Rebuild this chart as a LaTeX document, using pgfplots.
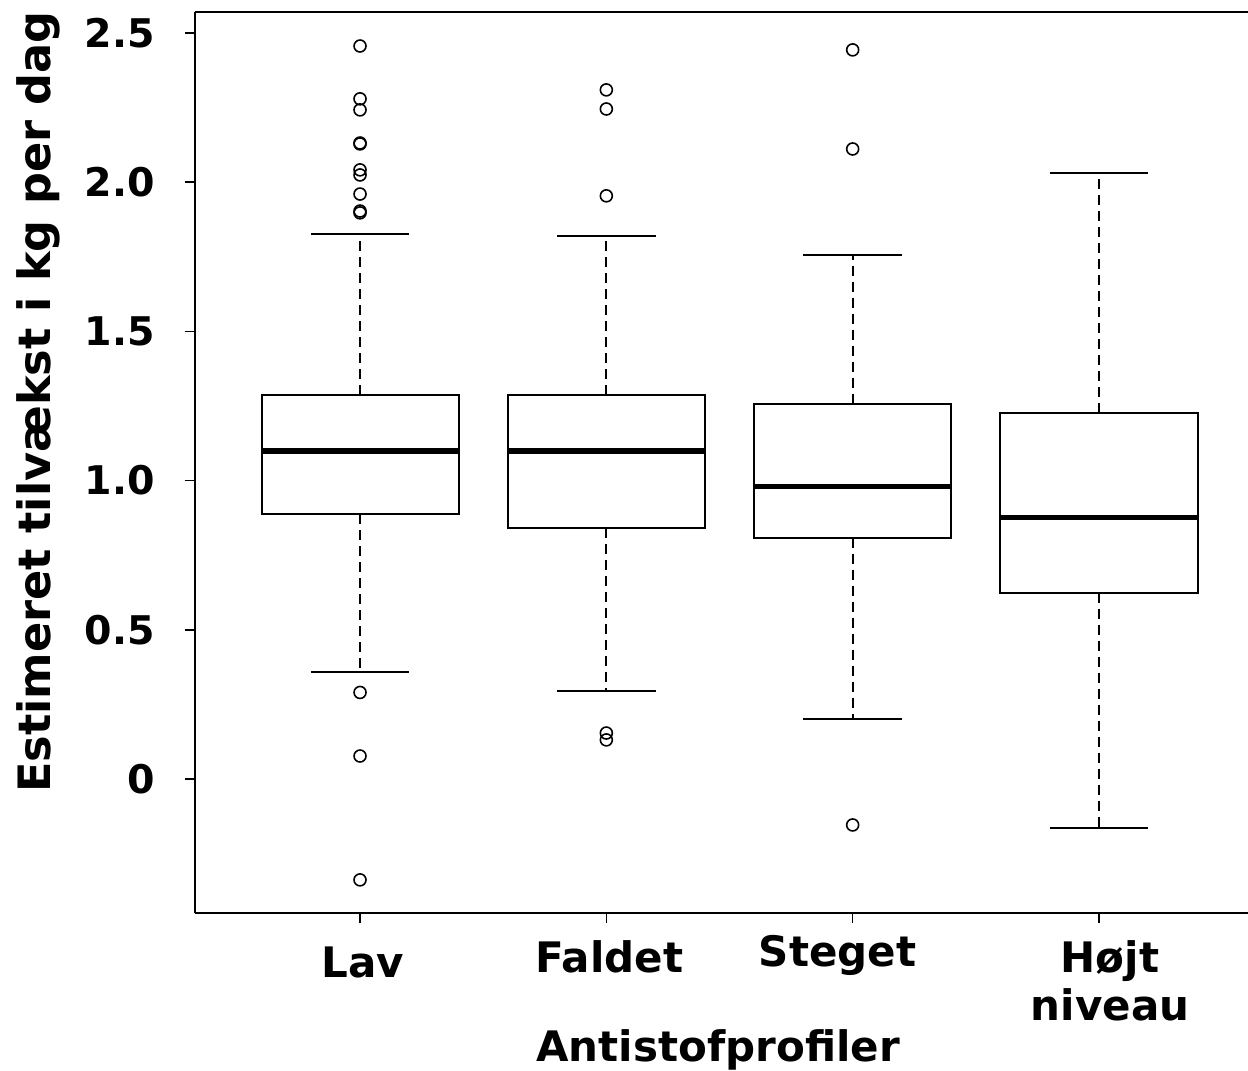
\documentclass[border=0pt]{standalone}
\usepackage{fontspec}
\setmainfont{DejaVu Sans}
\usepackage{pgfplots}
\usepgfplotslibrary{statistics}
\pgfplotsset{compat=1.18}
\begin{document}
\begin{tikzpicture}
\begin{axis}[
  at={(0,0)}, anchor=south west,
  scale only axis, width=526.5pt, height=450.5pt,
  xmin=0.330, xmax=4.605, ymin=-0.449, ymax=2.570,
  axis x line*=box, axis y line*=left,
  axis line style={-, black, line width=1pt},
  clip=false,
  xtick={1,2,3,4}, xticklabels={}, xtick pos=left,
  ytick={0,0.5,1,1.5,2,2.5}, yticklabels={0,0.5,1.0,1.5,2.0,2.5},
  ytick pos=left,
  tick align=outside, major tick length=5pt,
  tick style={black, line width=0.8pt},
  yticklabel style={font=\fontsize{19.75}{20}\selectfont\bfseries, anchor=east, inner sep=0pt, xshift=-15pt},
  boxplot/draw direction=y,
  boxplot/draw/lower whisker/.code={
    \draw[line width=1.1pt, dash pattern=on 5pt off 3pt]
      (boxplot box cs:\pgfplotsboxplotvalue{lower quartile},0.5) --
      (boxplot box cs:\pgfplotsboxplotvalue{lower whisker},0.5);
    \draw[line width=1pt]
      (boxplot whisker cs:\pgfplotsboxplotvalue{lower whisker},0) --
      (boxplot whisker cs:\pgfplotsboxplotvalue{lower whisker},1);
  },
  boxplot/draw/upper whisker/.code={
    \draw[line width=1.1pt, dash pattern=on 5pt off 3pt]
      (boxplot box cs:\pgfplotsboxplotvalue{upper quartile},0.5) --
      (boxplot box cs:\pgfplotsboxplotvalue{upper whisker},0.5);
    \draw[line width=1pt]
      (boxplot whisker cs:\pgfplotsboxplotvalue{upper whisker},0) --
      (boxplot whisker cs:\pgfplotsboxplotvalue{upper whisker},1);
  },
  boxplot/every median/.style={line width=2.6pt},
  boxplot/box extend=0.8, boxplot/whisker extend=0.4,
]
\addplot[black, line width=1pt, boxplot prepared={draw position=1,
  lower whisker=0.359, lower quartile=0.888, median=1.099,
  upper quartile=1.287, upper whisker=1.826}] coordinates {};
\addplot[black, line width=1pt, boxplot prepared={draw position=2,
  lower whisker=0.295, lower quartile=0.841, median=1.099,
  upper quartile=1.287, upper whisker=1.820}] coordinates {};
\addplot[black, line width=1pt, boxplot prepared={draw position=3,
  lower whisker=0.201, lower quartile=0.808, median=0.979,
  upper quartile=1.257, upper whisker=1.756}] coordinates {};
\addplot[black, line width=1pt, boxplot prepared={draw position=4,
  lower whisker=-0.164, lower quartile=0.623, median=0.875,
  upper quartile=1.227, upper whisker=2.031}] coordinates {};
% outliers
\addplot[only marks, mark=o, mark size=3pt, mark options={black, line width=0.8pt}] coordinates {
  (1,2.456) (1,2.279) (1,2.242) (1,2.131) (1,2.128) (1,2.041) (1,2.024)
  (1,1.960) (1,1.903) (1,1.897) (1,0.290) (1,0.077) (1,-0.338)
  (2,2.309) (2,2.245) (2,1.954) (2,0.154) (2,0.131)
  (3,2.443) (3,2.111) (3,-0.154)
};
\node[anchor=base, font=\fontsize{21}{24}\selectfont\bfseries] at (axis cs:1.012,-0.6635) {Lav};
\node[anchor=base, font=\fontsize{21}{24}\selectfont\bfseries] at (axis cs:2.012,-0.650) {Faldet};
\node[anchor=base, font=\fontsize{21}{24}\selectfont\bfseries] at (axis cs:2.939,-0.627) {Steget};
\node[anchor=base, font=\fontsize{21}{24}\selectfont\bfseries] at (axis cs:4.045,-0.650) {Højt};
\node[anchor=base, font=\fontsize{21}{24}\selectfont\bfseries] at (axis cs:4.045,-0.8076) {niveau};
\node[anchor=base, font=\fontsize{21}{24}\selectfont\bfseries] at (axis cs:2.4535,-0.948) {Antistofprofiler};
\node[anchor=base, rotate=90, font=\fontsize{22.3}{24}\selectfont\bfseries] at (axis cs:-0.2546,1.2634) {Estimeret tilvækst i kg per dag};
\end{axis}
\pgfresetboundingbox
\path (-97.5pt,-79pt) rectangle (526.5pt,456.5pt);
\end{tikzpicture}
\end{document}
